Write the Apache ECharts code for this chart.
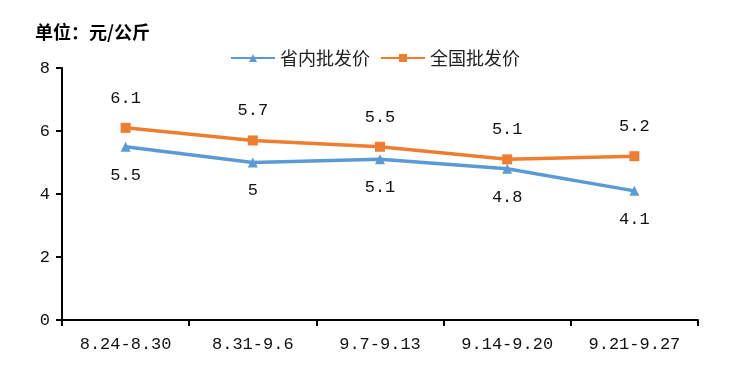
<!DOCTYPE html>
<html><head><meta charset="utf-8">
<script src="https://cdn.jsdelivr.net/npm/echarts@6/dist/echarts.min.js"></script>
<style>html,body{margin:0;padding:0;background:#fff}#c{width:750px;height:373px}</style>
</head><body><div id="c"></div>
<script>
const categories = ['8.24-8.30','8.31-9.6','9.7-9.13','9.14-9.20','9.21-9.27'];
const provincial = [5.5, 5, 5.1, 4.8, 4.1];
const national = [6.1, 5.7, 5.5, 5.1, 5.2];
const seriesNames = ['省内批发价','全国批发价'];
const unitText = '单位：元/公斤';
const FONT = '"Liberation Mono", "Noto Sans CJK SC", monospace';
const chart = echarts.init(document.getElementById('c'));
chart.setOption({
  animation:false,
  title:{text:unitText,left:30,top:18,textStyle:{fontFamily:'"Noto Sans CJK SC"',fontSize:18,fontWeight:'bold',color:'#000'}},
  legend:{data:seriesNames,left:'center',top:44,itemWidth:44,itemHeight:10,itemGap:10,
    textStyle:{fontFamily:'"Noto Sans CJK SC"',fontSize:18,color:'#222'}},
  grid:{left:62,right:52,top:68,bottom:53,containLabel:false},
  xAxis:{type:'category',data:categories,boundaryGap:true,
    axisLine:{lineStyle:{color:'#000',width:2}},
    axisTick:{show:true,alignWithLabel:false,length:6,lineStyle:{color:'#000',width:2}},
    axisLabel:{fontFamily:FONT,fontSize:17,color:'#111',margin:16}},
  yAxis:{type:'value',min:0,max:8,interval:2,
    axisLine:{show:true,lineStyle:{color:'#000',width:2}},
    axisTick:{show:true,length:6,lineStyle:{color:'#000',width:2}},
    splitLine:{show:false},
    axisLabel:{fontFamily:FONT,fontSize:17,color:'#111',margin:12}},
  series:[
    {name:seriesNames[0],type:'line',data:provincial,symbol:'triangle',symbolSize:10,
      lineStyle:{color:'#5B9BD5',width:3.5},itemStyle:{color:'#5B9BD5'},
      label:{show:true,position:'bottom',distance:15,fontFamily:FONT,fontSize:17,color:'#111'}},
    {name:seriesNames[1],type:'line',data:national,symbol:'rect',symbolSize:10,
      lineStyle:{color:'#ED7D31',width:3.5},itemStyle:{color:'#ED7D31'},
      label:{show:true,position:'top',distance:16,fontFamily:FONT,fontSize:17,color:'#111'}}
  ]
});
</script></body></html>
